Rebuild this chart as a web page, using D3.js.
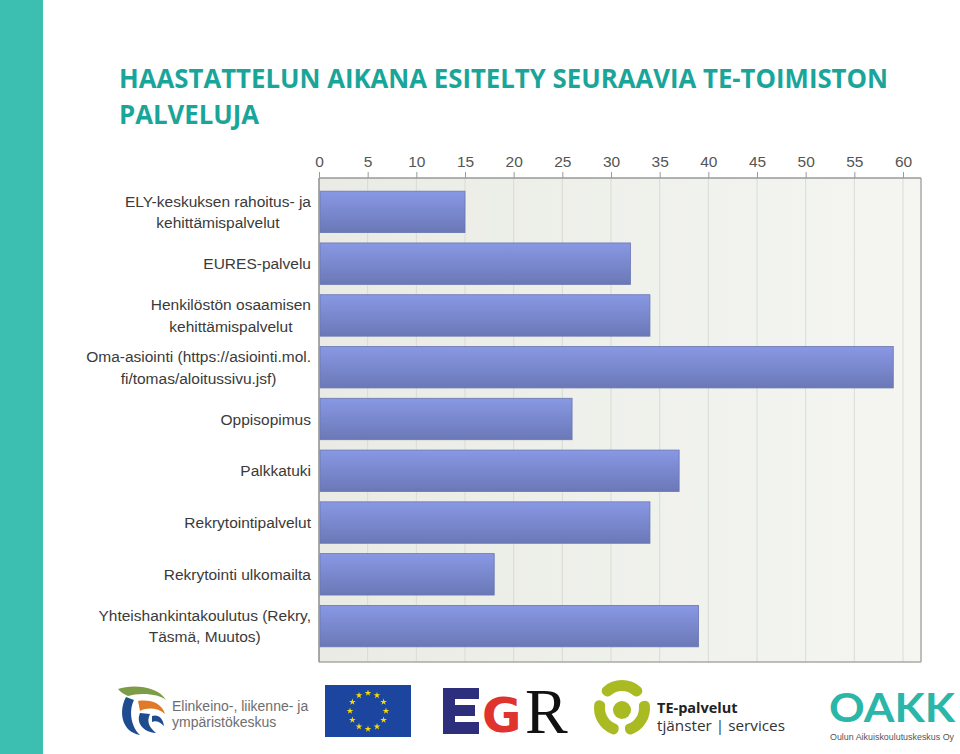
<!DOCTYPE html>
<html>
<head>
<meta charset="utf-8">
<script src="https://cdn.jsdelivr.net/npm/d3@7"></script>
<style>
  html, body { margin: 0; padding: 0; background: #ffffff; }
  svg { display: block; }
</style>
</head>
<body>
<svg id="chart" width="960" height="754"></svg>
<script>
// ---- DATA ----
const titleLines = ["HAASTATTELUN AIKANA ESITELTY SEURAAVIA TE-TOIMISTON", "PALVELUJA"];
const categories = [
  "ELY-keskuksen rahoitus- ja\nkehittämispalvelut",
  "EURES-palvelu",
  "Henkilöstön osaamisen\nkehittämispalvelut",
  "Oma-asiointi (https://asiointi.mol.\nfi/tomas/aloitussivu.jsf)",
  "Oppisopimus",
  "Palkkatuki",
  "Rekrytointipalvelut",
  "Rekrytointi ulkomailta",
  "Yhteishankintakoulutus (Rekry,\nTäsmä, Muutos)"
];
const values = [15, 32, 34, 59, 26, 37, 34, 18, 39];
const tickValues = [0, 5, 10, 15, 20, 25, 30, 35, 40, 45, 50, 55, 60];
const logoTexts = {
  ely: ["Elinkeino-, liikenne- ja", "ympäristökeskus"],
  te: ["TE-palvelut", "tjänster | services"],
  oakk: ["OAKK", "Oulun Aikuiskoulutuskeskus Oy"]
};

// ---- LAYOUT ----
const svg = d3.select("#chart");
const plot = { left: 319, right: 921, top: 178, bottom: 662 };

const defs = svg.append("defs");
const bg = defs.append("linearGradient").attr("id", "plotBg").attr("x1", "0").attr("x2", "1").attr("y1", "0").attr("y2", "0");
bg.append("stop").attr("offset", "0%").attr("stop-color", "#e9ebe4");
bg.append("stop").attr("offset", "100%").attr("stop-color", "#f5f6f2");
const barG = defs.append("linearGradient").attr("id", "barGrad").attr("x1", "0").attr("x2", "0").attr("y1", "0").attr("y2", "1");
barG.append("stop").attr("offset", "0%").attr("stop-color", "#8898e4");
barG.append("stop").attr("offset", "100%").attr("stop-color", "#6b78b7");

// teal side stripe
svg.append("rect").attr("x", 0).attr("y", 0).attr("width", 43).attr("height", 754).attr("fill", "#3cbfb1");

// title
const titleFont = "'Open Sans', Lato, sans-serif";
const t1 = svg.append("text")
  .attr("x", 119).attr("y", 88)
  .attr("font-family", titleFont)
  .attr("font-weight", "bold").attr("font-size", 27.5)
  .attr("fill", "#1aa59a")
  .text(titleLines[0]);
const w1 = t1.node().getComputedTextLength();
const ratio = 769 / w1;
t1.attr("textLength", 769).attr("lengthAdjust", "spacingAndGlyphs");
const t2 = svg.append("text")
  .attr("x", 119).attr("y", 124)
  .attr("font-family", titleFont)
  .attr("font-weight", "bold").attr("font-size", 27.5)
  .attr("fill", "#1aa59a")
  .text(titleLines[1]);
const w2 = t2.node().getComputedTextLength();
t2.attr("textLength", w2 * ratio).attr("lengthAdjust", "spacingAndGlyphs");

// scales
const x = d3.scaleLinear().domain([0, 60]).range([plot.left, 903]);
const y = d3.scaleBand().domain(categories).range([186, 652]).paddingInner(0.2).paddingOuter(0.1);

// plot background
svg.append("rect").attr("x", plot.left).attr("y", plot.top)
  .attr("width", plot.right - plot.left).attr("height", plot.bottom - plot.top)
  .attr("fill", "url(#plotBg)");

// gridlines
svg.append("g").selectAll("line").data(tickValues.slice(1)).join("line")
  .attr("x1", d => x(d)).attr("x2", d => x(d))
  .attr("y1", plot.top).attr("y2", plot.bottom)
  .attr("stroke", "#d9dbd5").attr("stroke-width", 1);

// bars
svg.append("g").selectAll("rect").data(values).join("rect")
  .attr("x", x(0) + 1)
  .attr("y", (d, i) => y(categories[i]))
  .attr("width", d => x(d) - x(0) - 1)
  .attr("height", y.bandwidth())
  .attr("fill", "url(#barGrad)")
  .attr("stroke", "#6a76b0").attr("stroke-width", 0.8);

// frame lines
svg.append("line").attr("x1", plot.right).attr("x2", plot.right).attr("y1", plot.top).attr("y2", plot.bottom)
  .attr("stroke", "#a9aaa7").attr("stroke-width", 1.5);
svg.append("line").attr("x1", plot.left).attr("x2", plot.right).attr("y1", plot.bottom).attr("y2", plot.bottom)
  .attr("stroke", "#a9aaa7").attr("stroke-width", 1.5);
svg.append("line").attr("x1", plot.left).attr("x2", plot.left).attr("y1", plot.top).attr("y2", plot.bottom)
  .attr("stroke", "#8d8f8c").attr("stroke-width", 1.5);

// top axis
const axis = d3.axisTop(x).tickValues(tickValues).tickSize(6).tickPadding(5).tickFormat(d3.format("d"));
const axG = svg.append("g").attr("transform", `translate(0,${plot.top})`).call(axis);
axG.select(".domain").attr("d", `M${plot.left},0H${plot.right}`).attr("stroke", "#999").attr("stroke-width", 1.5);
axG.selectAll(".tick line").attr("stroke", "#999");
axG.selectAll(".tick text")
  .attr("font-family", "'Liberation Sans', Arial, sans-serif")
  .attr("font-size", 15.5).attr("fill", "#555");

// category labels
const labG = svg.append("g")
  .attr("font-family", "'Liberation Sans', Arial, sans-serif")
  .attr("font-size", 15.5).attr("fill", "#3a3a3a");
categories.forEach((c, i) => {
  const lines = c.split("\n");
  const cy = y(c) + y.bandwidth() / 2;
  const lh = 21.5;
  const t = labG.append("text").attr("text-anchor", "middle");
  const spans = lines.map((ln, j) => t.append("tspan")
    .attr("y", cy + (j - (lines.length - 1) / 2) * lh)
    .attr("dy", "0.36em").text(ln));
  let maxW = 0;
  spans.forEach(s => { maxW = Math.max(maxW, s.node().getComputedTextLength()); });
  spans.forEach(s => s.attr("x", 311 - maxW / 2));
});

// ---- LOGOS ----
const logos = svg.append("g");
// ELY logo
const ely = logos.append("g");
ely.append("path").attr("d", "M118,689 C132,684 158,686 166,700 C160,694 140,692 128,696 C124,694 120,692 118,689 Z").attr("fill", "#7d9c47");
ely.append("path").attr("d", "M126,697 C118,712 122,732 140,735 C132,728 128,712 134,700 Z").attr("fill", "#1f4b8f");
ely.append("path").attr("d", "M138,701 C150,699 162,703 165,714 C158,708 148,707 140,711 Z").attr("fill", "#e07a26");
ely.append("path").attr("d", "M140,713 C136,722 142,732 156,733 C150,728 146,722 150,714 Z").attr("fill", "#1f4b8f");
ely.append("path").attr("d", "M152,716 C158,714 163,718 164,726 C160,722 156,720 152,722 Z").attr("fill", "#1f4b8f");
ely.append("text").attr("x", 172).attr("y", 711)
  .attr("font-family", "'Liberation Sans', Arial, sans-serif").attr("font-size", 14).attr("fill", "#6d6e70")
  .text(logoTexts.ely[0]);
ely.append("text").attr("x", 172).attr("y", 727)
  .attr("font-family", "'Liberation Sans', Arial, sans-serif").attr("font-size", 14).attr("fill", "#6d6e70")
  .text(logoTexts.ely[1]);

// EU flag
const eu = logos.append("g");
eu.append("rect").attr("x", 325).attr("y", 685).attr("width", 86).attr("height", 52).attr("fill", "#1c45a0");
const star = d3.symbol().type(d3.symbolStar).size(14);
d3.range(12).forEach(k => {
  const a = k * Math.PI / 6;
  eu.append("path").attr("d", star())
    .attr("transform", `translate(${368 + 18 * Math.sin(a)},${711 - 18 * Math.cos(a)})`)
    .attr("fill", "#f5d90a");
});

// EGR logo
const egr = logos.append("g");
egr.append("rect").attr("x", 443).attr("y", 688).attr("width", 12).attr("height", 46).attr("fill", "#2d2f7c");
egr.append("rect").attr("x", 443).attr("y", 688).attr("width", 36).attr("height", 11).attr("fill", "#2d2f7c");
egr.append("rect").attr("x", 443).attr("y", 705).attr("width", 32).attr("height", 11).attr("fill", "#2d2f7c");
egr.append("rect").attr("x", 443).attr("y", 722).attr("width", 36).attr("height", 12).attr("fill", "#2d2f7c");
egr.append("text").attr("x", 482).attr("y", 732)
  .attr("font-family", "'DejaVu Sans', sans-serif").attr("font-weight", "bold").attr("font-size", 48).attr("fill", "#e0332d")
  .text("G");
egr.append("text").attr("x", 525).attr("y", 733)
  .attr("font-family", "'Liberation Serif', serif").attr("font-size", 64).attr("fill", "#111")
  .text("R");

// TE-palvelut logo
const te = logos.append("g").attr("transform", "translate(622,708)");
const arcGen = d3.arc().innerRadius(17).outerRadius(28).cornerRadius(5);
[[-0.95, 0.95], [1.25, 3.0], [3.3, 5.05]].forEach(([s, e]) => {
  te.append("path").attr("d", arcGen({ startAngle: s, endAngle: e })).attr("fill", "#a9ba22");
});
te.append("circle").attr("cx", 0).attr("cy", 2).attr("r", 9).attr("fill", "#a9ba22");
logos.append("text").attr("x", 657).attr("y", 713)
  .attr("font-family", "'Open Sans', sans-serif").attr("font-weight", "bold").attr("font-size", 14.5).attr("fill", "#222")
  .text(logoTexts.te[0]);
logos.append("text").attr("x", 657).attr("y", 731)
  .attr("font-family", "'Open Sans', sans-serif").attr("font-size", 14.5).attr("fill", "#333")
  .attr("textLength", 128).attr("lengthAdjust", "spacingAndGlyphs")
  .text(logoTexts.te[1]);

// OAKK logo
logos.append("text").attr("x", 829).attr("y", 722)
  .attr("font-family", "Lato, sans-serif").attr("font-weight", "bold").attr("font-size", 40).attr("fill", "#2ab6a9")
  .attr("textLength", 126).attr("lengthAdjust", "spacingAndGlyphs")
  .text(logoTexts.oakk[0]);
logos.append("text").attr("x", 830).attr("y", 740)
  .attr("font-family", "'Liberation Sans', Arial, sans-serif").attr("font-size", 9).attr("fill", "#555")
  .attr("textLength", 124).attr("lengthAdjust", "spacingAndGlyphs")
  .text(logoTexts.oakk[1]);
</script>
</body>
</html>
